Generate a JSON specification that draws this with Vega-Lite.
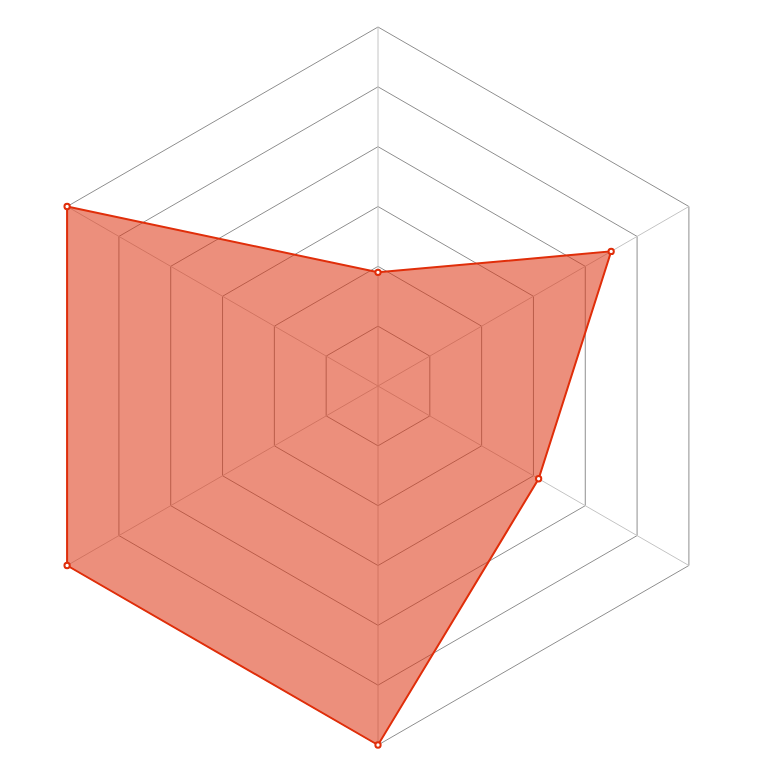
{
  "$schema": "https://vega.github.io/schema/vega-lite/v6.json",
  "width": 718,
  "height": 718,
  "autosize": "none",
  "padding": {"left": 19, "top": 27, "right": 37, "bottom": 29},
  "background": "white",
  "config": {"view": {"stroke": null}},
  "datasets": {
    "series": [
      {"axis": 0, "value": 1.9},
      {"axis": 1, "value": 4.5},
      {"axis": 2, "value": 3.1},
      {"axis": 3, "value": 6},
      {"axis": 4, "value": 6},
      {"axis": 5, "value": 6}
    ],
    "rings": [
      {"level": 1, "axis": 0}, {"level": 1, "axis": 1}, {"level": 1, "axis": 2}, {"level": 1, "axis": 3}, {"level": 1, "axis": 4}, {"level": 1, "axis": 5},
      {"level": 2, "axis": 0}, {"level": 2, "axis": 1}, {"level": 2, "axis": 2}, {"level": 2, "axis": 3}, {"level": 2, "axis": 4}, {"level": 2, "axis": 5},
      {"level": 3, "axis": 0}, {"level": 3, "axis": 1}, {"level": 3, "axis": 2}, {"level": 3, "axis": 3}, {"level": 3, "axis": 4}, {"level": 3, "axis": 5},
      {"level": 4, "axis": 0}, {"level": 4, "axis": 1}, {"level": 4, "axis": 2}, {"level": 4, "axis": 3}, {"level": 4, "axis": 4}, {"level": 4, "axis": 5},
      {"level": 5, "axis": 0}, {"level": 5, "axis": 1}, {"level": 5, "axis": 2}, {"level": 5, "axis": 3}, {"level": 5, "axis": 4}, {"level": 5, "axis": 5},
      {"level": 6, "axis": 0}, {"level": 6, "axis": 1}, {"level": 6, "axis": 2}, {"level": 6, "axis": 3}, {"level": 6, "axis": 4}, {"level": 6, "axis": 5}
    ],
    "spokes": [
      {"axis": 0, "level": 0}, {"axis": 0, "level": 6},
      {"axis": 1, "level": 0}, {"axis": 1, "level": 6},
      {"axis": 2, "level": 0}, {"axis": 2, "level": 6},
      {"axis": 3, "level": 0}, {"axis": 3, "level": 6},
      {"axis": 4, "level": 0}, {"axis": 4, "level": 6},
      {"axis": 5, "level": 0}, {"axis": 5, "level": 6}
    ]
  },
  "layer": [
    {
      "data": {"name": "rings"},
      "transform": [
        {"calculate": "PI / 2 - datum.axis * PI / 3", "as": "angle"},
        {"calculate": "datum.level * cos(datum.angle)", "as": "px"},
        {"calculate": "datum.level * sin(datum.angle)", "as": "py"}
      ],
      "mark": {"type": "line", "interpolate": "linear-closed", "stroke": "#8f8f8f", "strokeWidth": 1},
      "encoding": {
        "x": {"field": "px", "type": "quantitative", "scale": {"domain": [-6, 6], "nice": false, "zero": false}, "axis": null},
        "y": {"field": "py", "type": "quantitative", "scale": {"domain": [-6, 6], "nice": false, "zero": false}, "axis": null},
        "detail": {"field": "level", "type": "nominal"},
        "order": {"field": "axis", "type": "quantitative"}
      }
    },
    {
      "data": {"name": "spokes"},
      "transform": [
        {"calculate": "PI / 2 - datum.axis * PI / 3", "as": "angle"},
        {"calculate": "datum.level * cos(datum.angle)", "as": "px"},
        {"calculate": "datum.level * sin(datum.angle)", "as": "py"}
      ],
      "mark": {"type": "line", "stroke": "#c4c4c4", "strokeWidth": 1},
      "encoding": {
        "x": {"field": "px", "type": "quantitative"},
        "y": {"field": "py", "type": "quantitative"},
        "detail": {"field": "axis", "type": "nominal"},
        "order": {"field": "level", "type": "quantitative"}
      }
    },
    {
      "data": {"name": "series"},
      "transform": [
        {"calculate": "PI / 2 - datum.axis * PI / 3", "as": "angle"},
        {"calculate": "datum.value * cos(datum.angle)", "as": "px"},
        {"calculate": "datum.value * sin(datum.angle)", "as": "py"}
      ],
      "mark": {"type": "line", "interpolate": "linear-closed", "fill": "#dd3311", "fillOpacity": 0.55, "stroke": "#e02e0a", "strokeWidth": 2},
      "encoding": {
        "x": {"field": "px", "type": "quantitative"},
        "y": {"field": "py", "type": "quantitative"},
        "order": {"field": "axis", "type": "quantitative"}
      }
    },
    {
      "data": {"name": "series"},
      "transform": [
        {"calculate": "PI / 2 - datum.axis * PI / 3", "as": "angle"},
        {"calculate": "datum.value * cos(datum.angle)", "as": "px"},
        {"calculate": "datum.value * sin(datum.angle)", "as": "py"}
      ],
      "mark": {"type": "point", "filled": true, "fill": "white", "stroke": "#e02e0a", "strokeWidth": 2, "size": 28, "opacity": 1},
      "encoding": {
        "x": {"field": "px", "type": "quantitative"},
        "y": {"field": "py", "type": "quantitative"}
      }
    }
  ]
}
